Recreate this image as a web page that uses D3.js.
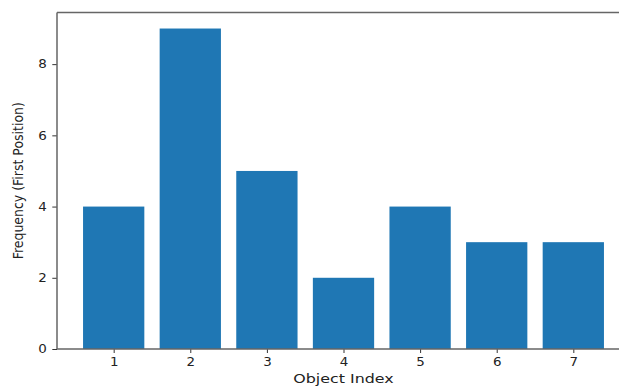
<!DOCTYPE html>
<html><head><meta charset="utf-8">
<script src="https://cdn.jsdelivr.net/npm/d3@7"></script>
<style>body{margin:0;background:#fff}svg{display:block}text{font-family:"DejaVu Sans",sans-serif;fill:#222}</style>
</head><body>
<script>
const categories = [1, 2, 3, 4, 5, 6, 7];
const values = [4, 9, 5, 2, 4, 3, 3];
const yTicks = [0, 2, 4, 6, 8];

const W = 619, H = 388;
const m = {left: 57, top: 12.5, right: 630, bottom: 349};
const svg = d3.select("body").append("svg").attr("width", W).attr("height", H);

const x = d3.scaleLinear().domain([0.26, 7.74]).range([m.left, m.right]);
const y = d3.scaleLinear().domain([0, 9.45]).range([m.bottom, m.top]);

svg.append("g").selectAll("rect").data(values).join("rect")
  .attr("x", (d, i) => x(categories[i] - 0.4))
  .attr("width", (d, i) => x(categories[i] + 0.4) - x(categories[i] - 0.4))
  .attr("y", d => y(d))
  .attr("height", d => y(0) - y(d))
  .attr("fill", "#1f77b4");

const xa = svg.append("g").attr("transform", `translate(0,${m.bottom})`)
  .call(d3.axisBottom(x).tickValues(categories).tickFormat(d3.format("d")).tickSize(4).tickPadding(4));
const ya = svg.append("g").attr("transform", `translate(${m.left},0)`)
  .call(d3.axisLeft(y).tickValues(yTicks).tickFormat(d3.format("d")).tickSize(4.7).tickPadding(5));
[xa, ya].forEach(a => {
  a.select(".domain").remove();
  a.selectAll("line").attr("stroke", "#333").attr("stroke-width", 1);
  a.selectAll("text").attr("font-size", 12).attr("fill", "#222").style("font-family", "DejaVu Sans");
});
xa.selectAll("text").attr("transform", "scale(1.12,1)");
ya.selectAll("text").attr("x", -9).attr("transform", "scale(1.12,1)");

// spines
svg.append("path").attr("d", `M${m.left},${m.top}H${m.right}M${m.left},${m.top}V${m.bottom}M${m.left},${m.bottom}H${m.right}`)
  .attr("stroke", "#666").attr("stroke-width", 1.5).attr("fill", "none");

svg.append("text").attr("transform", `translate(${x(4)},383) scale(1.26,1)`)
  .attr("text-anchor", "middle").attr("font-size", 12.6).text("Object Index");
svg.append("text").attr("transform", `translate(23,${(m.top + m.bottom) / 2}) scale(1.12,1) rotate(-90)`)
  .attr("text-anchor", "middle").attr("font-size", 12.5).text("Frequency (First Position)");
</script>
</body></html>
